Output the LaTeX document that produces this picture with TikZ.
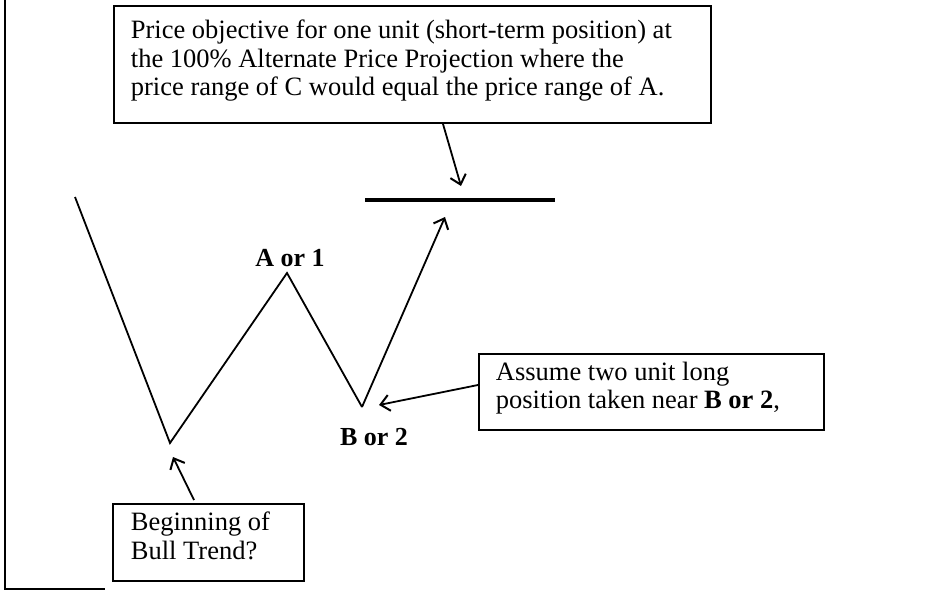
\documentclass[tikz,border=0pt]{standalone}
\usepackage{fontspec}
\setmainfont{Liberation Serif}
\usetikzlibrary{arrows.meta}
\begin{document}
\begin{tikzpicture}[x=1pt,y=-1pt,
  line width=1.8pt,
  tip/.style={-{Straight Barb[length=9pt,width=16pt,line width=2pt]}},
  callout/.style={draw,line width=2.2pt,inner sep=0pt,anchor=north west},
  txt/.style={font=\fontsize{26.5}{28.5}\selectfont,align=left,anchor=north west,inner sep=0pt},
  lbl/.style={font=\fontsize{26}{28}\selectfont\bfseries,inner sep=0pt}]
\useasboundingbox (0,0) rectangle (925,591);
% frame
\coordinate (f1) at (5,0);
\coordinate (f2) at (5,589);
\coordinate (f3) at (105,589);
\draw[line width=1.5pt] (f1) -- (f2) -- (f3);
% top box
\node[callout,minimum width=597pt,minimum height=117pt] (top) at (113,5) {};
\node[txt] (toptext) at (130,19) {Price objective for one unit (short-term position) at\\the 100\% Alternate Price Projection where the\\price range of C would equal the price range of A.};
% objective line
\coordinate (o1) at (365,200);
\coordinate (o2) at (555,200);
\draw[line width=4pt] (o1) -- (o2);
\coordinate (t1) at (443,124);
\coordinate (t2) at (461,186);
\draw[tip] (t1) -- (t2);
% zigzag
\coordinate (z0) at (75,197);
\coordinate (z1) at (170,443);
\coordinate (z2) at (287,273);
\coordinate (z3) at (362,407);
\coordinate (z4) at (445,217);
\draw (z0) -- (z1) -- (z2) -- (z3);
\draw[tip] (z3) -- (z4);
\node[lbl] (A) at (290,258) {A or 1};
\node[lbl] (B) at (374,437) {B or 2};
% right box
\node[callout,minimum width=345pt,minimum height=76pt] (rb) at (478,353) {};
\node[txt] (rbtext) at (495,361) {Assume two unit long\\position taken near \textbf{B or 2},};
\coordinate (r1) at (478,385);
\coordinate (r2) at (379,405);
\draw[tip] (r1) -- (r2);
% bottom box
\node[callout,minimum width=191pt,minimum height=77pt] (bb) at (112,503) {};
\node[txt] (bbtext) at (130,511) {Beginning of\\Bull Trend?};
\coordinate (b1) at (194,500);
\coordinate (b2) at (173,457);
\draw[tip] (b1) -- (b2);
\end{tikzpicture}
\end{document}
